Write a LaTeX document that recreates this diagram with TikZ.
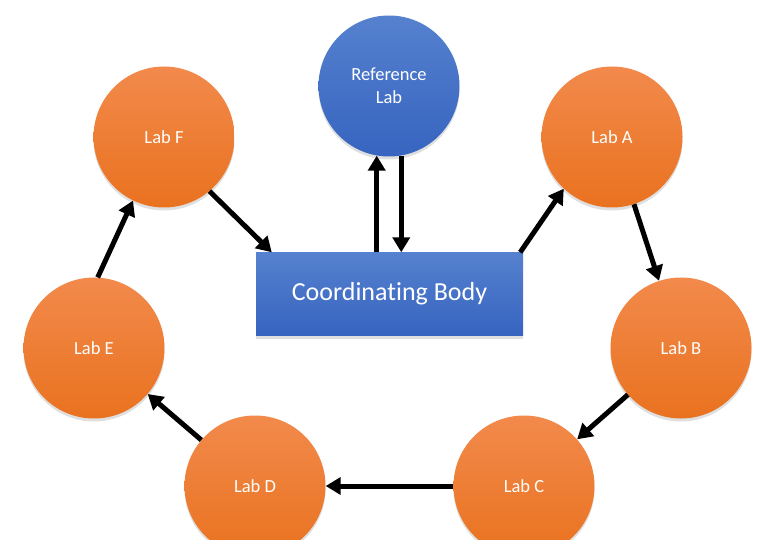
\documentclass[tikz,border=0pt]{standalone}
\usepackage{fontspec}
\setmainfont[Ligatures=NoCommon]{Carlito}
\usetikzlibrary{arrows.meta,shadows,calc}
\definecolor{orangetop}{HTML}{F28A4C}
\definecolor{orangebot}{HTML}{E9721F}
\definecolor{bluetop}{HTML}{5581CF}
\definecolor{bluebot}{HTML}{3764BF}
\tikzset{
  lab/.style={circle, minimum size=141pt, inner sep=0pt, top color=orangetop, bottom color=orangebot,
    draw=none, text=white, font=\fontsize{18.5}{23}\selectfont, align=center,
    drop shadow={shadow xshift=0pt, shadow yshift=-3pt, opacity=0.25}},
  reflab/.style={lab, top color=bluetop, bottom color=bluebot},
  body/.style={rectangle, minimum width=267pt, minimum height=83pt, inner sep=0pt,
    top color=bluetop, bottom color=bluebot, draw=none, text=white,
    font=\fontsize{26}{30}\selectfont,
    drop shadow={shadow xshift=0pt, shadow yshift=-3pt, opacity=0.25}},
  arr/.style={line width=5pt, -{Triangle[length=15pt,width=17pt]}, black}
}
\begin{document}
\begin{tikzpicture}[x=1pt,y=-1pt]
\useasboundingbox (0,0) rectangle (758,540);
\clip (0,0) rectangle (758,540);
\node[body] (cb) at (389.5,294) {Coordinating Body};
\node[reflab] (ref) at (389,86) {Reference\\Lab};
\node[lab] (la) at (612,137) {Lab A};
\node[lab] (lb) at (681,348) {Lab B};
\node[lab] (lc) at (524,486) {Lab C};
\node[lab] (ld) at (255,486) {Lab D};
\node[lab] (le) at (94,348) {Lab E};
\node[lab] (lf) at (164,137) {Lab F};
\draw[arr] (ref.260 |- cb.north) -- (ref.260);
\draw[arr] (ref.280) -- (ref.280 |- cb.north);
\draw[arr] ([xshift=-3pt]cb.north east) -- (la.227);
\draw[arr] (la) -- (lb);
\draw[arr] (lb) -- (lc);
\draw[arr] (lc) -- (ld);
\draw[arr] (ld) -- (le);
\draw[arr] (le.87) -- (lf.244);
\draw[arr] (lf.310) -- ([xshift=16pt]cb.north west);
\end{tikzpicture}
\end{document}
